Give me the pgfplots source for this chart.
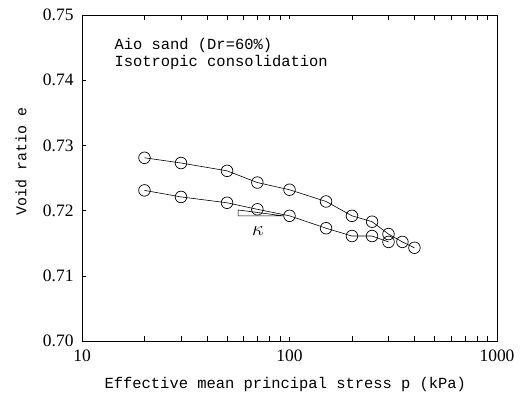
\documentclass[border=0pt]{standalone}
\usepackage{fontspec}
\setmainfont{Liberation Serif}
\newfontfamily\monofont{Liberation Mono}
\usepackage{pgfplots}
\pgfplotsset{compat=1.18}
\begin{document}
\begin{tikzpicture}[x=1bp,y=1bp]
\path[use as bounding box] (-82,-63) rectangle (450,341);
\begin{axis}[
  at={(0,0)}, anchor=south west,
  scale only axis, width=415bp, height=326bp,
  xmode=log, xmin=10, xmax=1000,
  ymin=0.70, ymax=0.75,
  ytick={0.70,0.71,0.72,0.73,0.74,0.75},
  yticklabel style={/pgf/number format/fixed,/pgf/number format/fixed zerofill,/pgf/number format/precision=2},
  xtick={10,100,1000},
  xticklabels={10,100,1000},
  minor xtick={20,30,40,50,60,70,80,90,200,300,400,500,600,700,800,900},
  tick align=inside,
  xtick pos=both, ytick pos=left,
  major tick length=4bp, minor tick length=5bp,
  tick style={black, line width=0.5pt},
  axis line style={line width=0.6pt},
  /pgf/number format/assume math mode=true,
  tick label style={font=\fontsize{17.5}{19}\selectfont},
  xticklabel style={yshift=-5bp},
  yticklabel style={xshift=-5bp},
  xlabel={\monofont\fontsize{15.5}{18}\selectfont Effective mean principal stress p (kPa)},
  ylabel={\monofont\fontsize{15}{18}\selectfont Void ratio e},
  xlabel style={at={(axis description cs:0.49,0)}, anchor=base, yshift=-47bp},
  ylabel style={at={(axis description cs:-0.147,0.55)}, anchor=center},
  clip=false,
]
\addplot[black, line width=0.6pt, mark=o, mark size=5.8bp, mark options={fill=white, line width=0.7pt}]
  coordinates {(20,0.7281) (30,0.7273) (50,0.7261) (70,0.7243) (100,0.7232) (150,0.7214) (200,0.7192) (250,0.7183) (300,0.7164) (350,0.7152) (400,0.7143)};
\addplot[black, line width=0.6pt, mark=o, mark size=5.8bp, mark options={fill=white, line width=0.7pt}]
  coordinates {(20,0.7231) (30,0.7221) (50,0.7212) (70,0.7202) (100,0.7192) (150,0.7173) (200,0.7161) (250,0.7161) (300,0.7152)};
\draw[black, line width=0.6pt] (axis cs:93,0.7192) -- (axis cs:56.5,0.7201) -- (axis cs:56.5,0.7192) -- (axis cs:93,0.7192);
\node[font=\fontsize{20}{22}\selectfont] at (axis cs:70.5,0.7168) {$\kappa$};
\node[anchor=west, align=left, font=\monofont\fontsize{15.5}{17.5}\selectfont, inner sep=0pt] at (axis description cs:0.078,0.88) {Aio sand (Dr=60\%)\\Isotropic consolidation};
\end{axis}
\end{tikzpicture}
\end{document}
